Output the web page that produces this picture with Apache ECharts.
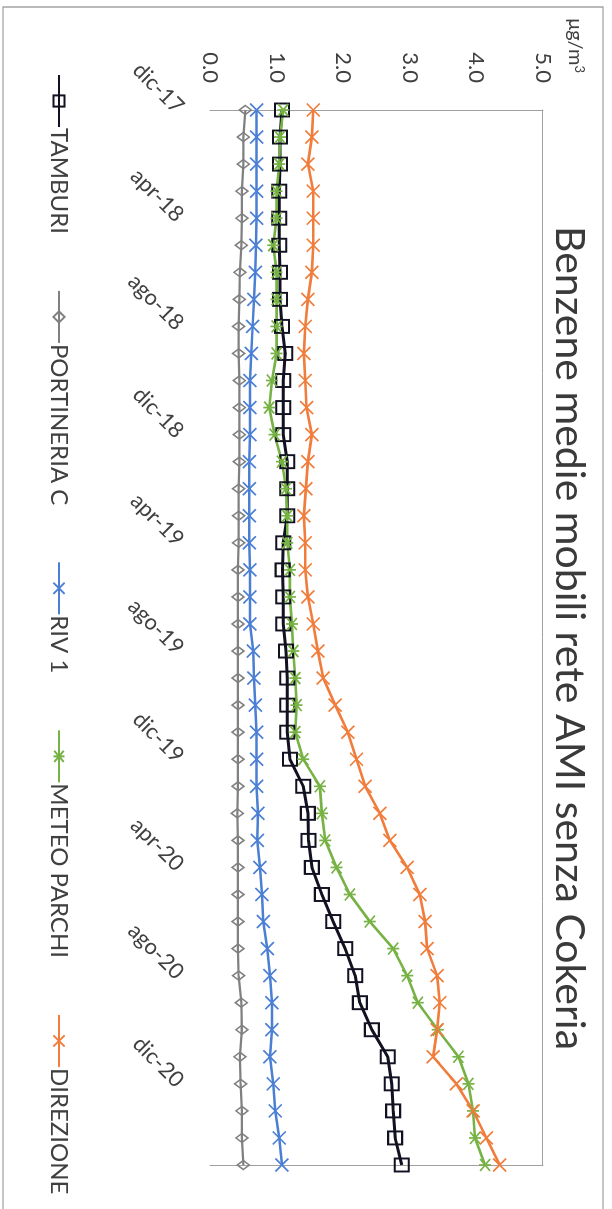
<!DOCTYPE html>
<html><head><meta charset="utf-8">
<script src="https://cdn.jsdelivr.net/npm/echarts@6/dist/echarts.min.js"></script>
<style>
html,body{margin:0;padding:0;background:#fff;overflow:hidden;width:612px;height:1209px}
#wrap{position:absolute;left:0;top:0;width:1209px;height:612px;transform-origin:0 0;transform:translate(612px,0) rotate(90deg);background:#fff}
</style></head><body><div id="wrap"></div>
<script>
// 40 monthly points, dic-17 .. mar-21
const categories = [
 'dic-17','gen-18','feb-18','mar-18','apr-18','mag-18','giu-18','lug-18','ago-18','set-18','ott-18','nov-18',
 'dic-18','gen-19','feb-19','mar-19','apr-19','mag-19','giu-19','lug-19','ago-19','set-19','ott-19','nov-19',
 'dic-19','gen-20','feb-20','mar-20','apr-20','mag-20','giu-20','lug-20','ago-20','set-20','ott-20','nov-20',
 'dic-20','gen-21','feb-21','mar-21'];

const seriesNames = ['TAMBURI','PORTINERIA C','RIV 1','METEO PARCHI','DIREZIONE'];

const tamburi = [1.08,1.05,1.05,1.04,1.04,1.04,1.05,1.05,1.08,
 1.13,1.10,1.10,1.10,1.16,1.16,1.16,1.10,1.09,
 1.10,1.10,1.14,1.16,1.16,1.16,1.20,1.40,1.47,
 1.48,1.53,1.68,1.85,2.03,2.18,2.25,
 2.43,2.67,2.73,2.75,2.78,2.88];
const portineriaC = [0.53,0.50,0.50,0.48,0.48,0.47,0.45,0.44,0.43,
 0.43,0.44,0.44,0.44,0.44,0.43,0.43,0.43,0.42,
 0.42,0.42,0.42,0.42,0.42,0.42,0.42,0.42,0.41,
 0.42,0.42,0.42,0.42,0.42,0.43,0.47,
 0.48,0.45,0.46,0.48,0.48,0.50];
const riv1 = [0.70,0.70,0.70,0.70,0.70,0.69,0.68,0.66,0.64,
 0.62,0.60,0.60,0.60,0.59,0.59,0.59,0.59,0.60,
 0.60,0.60,0.65,0.66,0.68,0.70,0.70,0.70,0.72,
 0.71,0.75,0.78,0.80,0.86,0.90,0.93,
 0.93,0.90,0.95,0.98,1.04,1.08];
const meteoParchi = [1.10,1.05,1.04,1.00,1.00,0.95,1.00,1.00,1.00,
 1.00,0.93,0.89,0.97,1.08,1.14,1.16,1.16,1.20,
 1.20,1.23,1.25,1.28,1.30,1.28,1.40,1.65,1.68,
 1.73,1.90,2.10,2.40,2.75,2.96,3.12,
 3.42,3.73,3.88,3.95,3.98,4.13];
const direzione = [1.55,1.53,1.47,1.55,1.55,1.55,1.53,1.47,1.43,
 1.41,1.43,1.45,1.53,1.47,1.44,1.41,1.43,1.43,
 1.47,1.55,1.62,1.70,1.88,2.07,2.20,2.33,2.55,
 2.70,2.96,3.15,3.23,3.26,3.41,3.45,
 3.41,3.35,3.70,3.95,4.15,4.35];

const valueTicks = [0,1,2,3,4,5];

const FONT = 'Lato, Carlito, "Open Sans", sans-serif';
const TXT = '#404040';
const XSYM = 'path://M0,0L10,10M10,0L0,10';
const STAR = 'path://M0,0L10,10M10,0L0,10M5,-1L5,11';

function mk(name, data, color, symbol, size, lw, bw){
  return {
    name, type:'line', data, symbol, symbolSize:size, showAllSymbol:true,
    lineStyle:{color, width:lw}, color,
    itemStyle:{color:'rgba(255,255,255,0)', borderColor:color, borderWidth:bw},
    emphasis:{disabled:true}, animation:false
  };
}

const chart = echarts.init(document.getElementById('wrap'), null, {renderer:'canvas'});
chart.setOption({
  animation:false,
  backgroundColor:'#fff',
  textStyle:{fontFamily:FONT},
  title:{text:'Benzene medie mobili rete AMI senza Cokeria', left:633, top:17, textAlign:'center',
    textStyle:{fontFamily:FONT, fontSize:41, fontWeight:400, color:'#3a3a3a'}},
  graphic:[{type:'rect', shape:{x:7,y:9,width:1400,height:600}, style:{fill:'none', stroke:'#8c8c8c', lineWidth:1.2}, silent:true}],
  legend:{left:69, top:536, itemWidth:52, itemHeight:14, itemGap:56,
    data:seriesNames,
    textStyle:{fontFamily:FONT, fontSize:24, color:TXT, padding:[0,0,0,-4]}},
  grid:{left:110, right:44, top:69, bottom:210, containLabel:false},
  xAxis:[{type:'category', data:categories, boundaryGap:false,
    axisLine:{show:false}, axisTick:{show:false},
    axisLabel:{interval:3, rotate:45, fontSize:22, margin:30, color:TXT, fontFamily:FONT}},
    {type:'category', data:categories, boundaryGap:false, position:'top',
    axisLine:{show:true, onZero:false, lineStyle:{color:'#a0a0a0', width:1}}, axisTick:{show:false}, axisLabel:{show:false}}],
  yAxis:[{type:'value', min:valueTicks[0], max:valueTicks[valueTicks.length-1], interval:1,
    name:'{a|μg/m}{b|3}', nameLocation:'end', nameGap:22,
    nameTextStyle:{align:'right', padding:[0,37,0,0], rich:{a:{fontSize:20,color:TXT,fontFamily:FONT}, b:{fontSize:13,color:TXT,fontFamily:FONT,verticalAlign:'top', padding:[0,0,8,0]}}},
    axisLine:{show:true, onZero:false, lineStyle:{color:'#a0a0a0', width:1}}, axisTick:{show:false}, splitLine:{show:false},
    axisLabel:{fontSize:22, margin:27, color:TXT, fontFamily:FONT, formatter:v=>v.toFixed(1)}},
    {type:'value', min:valueTicks[0], max:valueTicks[valueTicks.length-1], interval:1, position:'right',
    axisLine:{show:true, onZero:false, lineStyle:{color:'#a0a0a0', width:1}}, axisTick:{show:false}, splitLine:{show:false}, axisLabel:{show:false}}],
  series:[
    mk('TAMBURI', tamburi, '#111122', 'rect', [13,14], 3, 2),
    mk('PORTINERIA C', portineriaC, '#808080', 'diamond', [9,12], 2.2, 1.6),
    mk('RIV 1', riv1, '#4a7fd4', XSYM, 13, 2.5, 1.7),
    mk('METEO PARCHI', meteoParchi, '#77b244', STAR, 12, 2.6, 1.7),
    mk('DIREZIONE', direzione, '#f07d3c', XSYM, 13, 2.6, 1.7)
  ]
});
</script></body></html>
